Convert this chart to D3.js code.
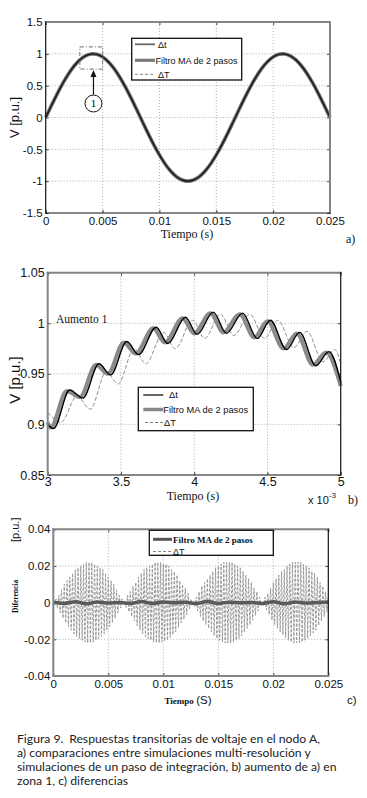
<!DOCTYPE html>
<html lang="es">
<head>
  <meta charset="UTF-8">
  <title>Figura 9</title>
  <script src="https://d3js.org/d3.v7.min.js"></script>
  <style>
    body { margin: 0; background: #fff; }
    svg { display: block; }
  </style>
</head>
<body>
<script>
  // ---- a) full waveform, one sample every 0.5 ms
  const aStep = 0.0005;
  const aV = [0, 0.187, 0.368, 0.536, 0.685, 0.809, 0.905, 0.969, 0.998, 0.992,
    0.951, 0.876, 0.771, 0.637, 0.482, 0.309, 0.125, -0.063, -0.249, -0.426,
    -0.588, -0.729, -0.844, -0.930, -0.982, -1.000, -0.982, -0.930, -0.844, -0.729,
    -0.588, -0.426, -0.249, -0.063, 0.125, 0.309, 0.482, 0.637, 0.771, 0.876,
    0.951, 0.992, 0.998, 0.969, 0.905, 0.809, 0.685, 0.536, 0.368, 0.187, 0.000];
  const aXTicks = [0, 0.005, 0.01, 0.015, 0.02, 0.025];
  const aYTicks = [-1.5, -1, -0.5, 0, 0.5, 1, 1.5];
  const zoomBox = {t: [0.003, 0.005], v: [0.76, 1.11]};   // zona 1
  const zoomMark = {t: 0.0042, v: 0.22};

  // ---- b) zoom of zone 1 (time in ms)
  const bDtT = [3.00, 3.04, 3.15, 3.24, 3.35, 3.43, 3.54, 3.62, 3.74, 3.82, 3.94,
    4.02, 4.13, 4.22, 4.33, 4.43, 4.52, 4.63, 4.72, 4.83, 4.92, 5.00];
  const bDtV = [0.900, 0.896, 0.934, 0.926, 0.960, 0.949, 0.982, 0.969, 0.996, 0.980, 1.006,
    0.989, 1.011, 0.990, 1.010, 0.985, 1.003, 0.974, 0.991, 0.958, 0.972, 0.942];
  const bMaT = [3.00, 3.02, 3.13, 3.22, 3.33, 3.41, 3.52, 3.60, 3.72, 3.80, 3.92,
    4.00, 4.11, 4.20, 4.31, 4.41, 4.50, 4.61, 4.70, 4.81, 4.90, 5.00];
  const bMaV = [0.902, 0.897, 0.933, 0.927, 0.959, 0.950, 0.981, 0.970, 0.995, 0.981, 1.005,
    0.990, 1.010, 0.991, 1.009, 0.986, 1.002, 0.975, 0.990, 0.959, 0.971, 0.938];
  const bBigT = [3.00, 3.09, 3.20, 3.29, 3.40, 3.48, 3.59, 3.67, 3.79, 3.87, 3.99,
    4.07, 4.18, 4.27, 4.38, 4.48, 4.57, 4.68, 4.77, 4.88, 4.96, 5.00];
  const bBigV = [0.912, 0.902, 0.928, 0.915, 0.952, 0.940, 0.975, 0.960, 0.991, 0.975, 1.003,
    0.985, 1.009, 0.988, 1.009, 0.985, 1.003, 0.976, 0.992, 0.962, 0.974, 0.960];
  const bXTicks = [3, 3.5, 4, 4.5, 5];
  const bYTicks = [0.85, 0.9, 0.95, 1, 1.05];

  // ---- c) differences (dashed ΔT trace in thousandths of p.u.)
  const cStep = 0.000125;
  const cBigMilli = [
    1, -1.5, 2, -3, 4, -5.5, 7, -8.5, 10, -11, 12, -13, 14, -15, 16, -17, 18, -18.5, 19, -19.5,
    20, -20.5, 21, -21.5, 22, -22, 22, -22, 22, -21.5, 21, -20.5, 20, -19.5, 19, -18.5, 18, -17,
    16, -15, 14, -13, 12, -11, 10, -8.5, 7, -5.5, 4, -3, 2, -0.5, 1, -2.5, 4, -5, 6, -7.5,
    9, -10, 11, -12.5, 14, -15, 16, -17, 18, -18.5, 19, -19.5, 20, -20.5, 21, -21.5, 22, -22,
    22, -22, 22, -21.5, 21, -21, 21, -20.5, 20, -19, 18, -17.5, 17, -16, 15, -13.5, 12, -11,
    10, -9, 8, -6.5, 5, -3.5, 2, -1, 1, -2, 3, -4.5, 6, -7.5, 9, -10, 11, -12, 13, -14,
    15, -16, 17, -18, 19, -19.5, 20, -20.5, 21, -21.5, 22, -22, 22, -22, 22, -22, 22, -21.5,
    21, -20.5, 20, -19.5, 19, -18, 17, -16, 15, -14, 13, -12, 11, -9.5, 8, -7, 6, -4.5,
    3, -1.5, 0, -1.5, 3, -4, 5, -6.5, 8, -9.5, 11, -12, 13, -14, 15, -16, 17, -17.5,
    18, -19, 20, -20.5, 21, -21.5, 22, -22, 22, -22, 22, -22, 22, -21.5, 21, -20.5,
    20, -19.5, 19, -18, 17, -16.5, 16, -15, 14, -12.5, 11, -10, 9, -7.5, 6, -5, 4];
  const cMaStep = 0.001;
  const cMaV = [0.0002, -0.0004, 0.0005, -0.0006, 0.0004, -0.0002, 0.0001, -0.0004, 0.0006,
    -0.0005, 0.0003, -0.0001, 0.0002, -0.0005, 0.0006, -0.0004, 0.0002, -0.0001, 0.0001,
    -0.0004, 0.0005, -0.0006, 0.0004, -0.0002, 0.0001, 0.0003];
  const cXTicks = [0, 0.005, 0.01, 0.015, 0.02, 0.025];
  const cYTicks = [-0.04, -0.02, 0, 0.02, 0.04];

  const SANS = '"Liberation Sans", Arial, sans-serif';
  const SERIF = '"Liberation Serif", "Times New Roman", serif';
  const GRAY = "#858585";

  const svg = d3.select("body").append("svg")
    .attr("width", 367).attr("height", 798);

  function drawPanel(p) {
    const x = d3.scaleLinear().domain(p.xDomain).range([p.left, p.right]);
    const y = d3.scaleLinear().domain(p.yDomain).range([p.bottom, p.top]);
    const g = svg.append("g");

    // dotted grid
    g.selectAll(".vg").data(p.xTicks.slice(1, -1)).join("line")
      .attr("x1", d => x(d)).attr("x2", d => x(d))
      .attr("y1", p.top).attr("y2", p.bottom)
      .attr("stroke", "#9a9a9a").attr("stroke-width", 0.8).attr("stroke-dasharray", "1,2");
    g.selectAll(".hg").data(p.yTicks.slice(1, -1)).join("line")
      .attr("y1", d => y(d)).attr("y2", d => y(d))
      .attr("x1", p.left).attr("x2", p.right)
      .attr("stroke", "#9a9a9a").attr("stroke-width", 0.8).attr("stroke-dasharray", "1,2");

    const style = s => {
      s.select(".domain").remove();
      s.attr("font-family", SANS).attr("font-size", p.fontSize);
      s.selectAll(".tick line").attr("stroke", "#444");
      s.selectAll(".tick text").attr("fill", "#111");
    };
    g.append("g").attr("transform", `translate(0,${p.bottom})`)
      .call(d3.axisBottom(x).tickValues(p.xTicks).tickSize(-3).tickPadding(p.pad)
        .tickFormat(d => String(d)))
      .call(style);
    g.append("g").attr("transform", `translate(${p.left},0)`)
      .call(d3.axisLeft(y).tickValues(p.yTicks).tickSize(-3).tickPadding(3)
        .tickFormat(d => String(d)))
      .call(style);
    g.append("g").attr("transform", `translate(0,${p.top})`)
      .call(d3.axisTop(x).tickValues(p.xTicks).tickSize(-3).tickFormat(""))
      .call(style);
    g.append("g").attr("transform", `translate(${p.right},0)`)
      .call(d3.axisRight(y).tickValues(p.yTicks).tickSize(-3).tickFormat(""))
      .call(style);

    const plot = g.append("g");

    // frame, each side its own colour like the original scan
    const f = p.frame;
    const side = (x1, y1, x2, y2, c) => g.append("line")
      .attr("x1", x1).attr("y1", y1).attr("x2", x2).attr("y2", y2)
      .attr("stroke", c[0]).attr("stroke-width", c[1]).attr("stroke-linecap", "square");
    side(p.left, p.top, p.right, p.top, f.top);
    side(p.right, p.top, p.right, p.bottom, f.right);
    side(p.left, p.bottom, p.right, p.bottom, f.bottom);
    side(p.left, p.top, p.left, p.bottom, f.left);

    return {g, plot, x, y};
  }

  function legend(g, box, rows, fontSize, fontFamily, weight) {
    g.append("rect").attr("x", box[0]).attr("y", box[1])
      .attr("width", box[2]).attr("height", box[3])
      .attr("fill", "#fff").attr("stroke", "#111").attr("stroke-width", 1.3);
    rows.forEach(r => {
      g.append("line").attr("x1", r.x1).attr("x2", r.x2).attr("y1", r.y).attr("y2", r.y)
        .attr("stroke", r.color).attr("stroke-width", r.width)
        .attr("stroke-dasharray", r.dash || null);
      g.append("text").attr("x", r.tx).attr("y", r.y + fontSize * 0.36)
        .attr("font-family", r.font || fontFamily).attr("font-size", fontSize)
        .attr("font-weight", r.font ? "normal" : (weight || "normal"))
        .attr("fill", "#111").text(r.label);
    });
  }

  // ================= a)
  const A = drawPanel({
    left: 45.7, right: 330, top: 22, bottom: 213,
    xDomain: [0, 0.025], yDomain: [-1.5, 1.5], xTicks: aXTicks, yTicks: aYTicks,
    fontSize: 11.5, pad: 3.5,
    frame: {top: [GRAY, 2], right: [GRAY, 2], bottom: ["#111", 1.2], left: ["#111", 1.2]}
  });
  const aLine = d3.line().x((d, i) => A.x(i * aStep)).y(d => A.y(d)).curve(d3.curveCatmullRom);
  A.plot.append("path").datum(aV).attr("d", aLine).attr("fill", "none")
    .attr("stroke", "#999").attr("stroke-width", 1).attr("stroke-dasharray", "4,2");
  A.plot.append("path").datum(aV).attr("d", aLine).attr("fill", "none")
    .attr("stroke", "#6e6e6e").attr("stroke-width", 3.6);
  A.plot.append("path").datum(aV).attr("d", aLine).attr("fill", "none")
    .attr("stroke", "#1a1a1a").attr("stroke-width", 1.4);

  // zone 1 marker
  A.g.append("rect")
    .attr("x", A.x(zoomBox.t[0])).attr("y", A.y(zoomBox.v[1]))
    .attr("width", A.x(zoomBox.t[1]) - A.x(zoomBox.t[0]))
    .attr("height", A.y(zoomBox.v[0]) - A.y(zoomBox.v[1]))
    .attr("fill", "none").attr("stroke", "#888").attr("stroke-width", 1.2)
    .attr("stroke-dasharray", "4,2,1,2");
  const mx = A.x(zoomMark.t), my = A.y(zoomMark.v);
  A.g.append("line").attr("x1", mx).attr("x2", mx)
    .attr("y1", my - 9).attr("y2", A.y(zoomBox.v[0]) + 6)
    .attr("stroke", "#111").attr("stroke-width", 1.2);
  A.g.append("path")
    .attr("d", `M${mx},${A.y(zoomBox.v[0]) + 1} l-3,7 l6,0 z`).attr("fill", "#111");
  A.g.append("circle").attr("cx", mx).attr("cy", my).attr("r", 8.5)
    .attr("fill", "#fff").attr("stroke", "#111").attr("stroke-width", 1);
  A.g.append("text").attr("x", mx).attr("y", my + 4).attr("text-anchor", "middle")
    .attr("font-family", SERIF).attr("font-size", 11).text("1");

  legend(A.g, [131.7, 38.3, 110, 41.7], [
    {x1: 135, x2: 155, y: 44.3, tx: 158, color: "#666", width: 1.8, label: "\u0394t"},
    {x1: 135, x2: 155, y: 60.3, tx: 155.5, color: "#7a7a7a", width: 3.2, label: "Filtro MA de 2 pasos"},
    {x1: 135, x2: 155, y: 74.3, tx: 158, color: "#888", width: 1, dash: "3,2", label: "\u0394T"}
  ], 9, SANS);

  svg.append("text").attr("x", 14).attr("y", 117.5).attr("text-anchor", "middle")
    .attr("transform", "rotate(-90,14,117.5)").attr("dy", "0.35em")
    .attr("font-family", SANS).attr("font-size", 13).attr("fill", "#111").text("V [p.u.]");
  svg.append("text").attr("x", 187).attr("y", 237.5).attr("text-anchor", "middle")
    .attr("font-family", SERIF).attr("font-size", 12).attr("fill", "#111").text("Tiempo  (s)");
  svg.append("text").attr("x", 346).attr("y", 243)
    .attr("font-family", SERIF).attr("font-size", 12).attr("fill", "#111").text("a)");

  // ================= b)
  const B = drawPanel({
    left: 47.7, right: 340.7, top: 272.7, bottom: 475,
    xDomain: [3, 5], yDomain: [0.85, 1.05], xTicks: bXTicks, yTicks: bYTicks,
    fontSize: 12.5, pad: 2.5,
    frame: {top: [GRAY, 2], right: ["#111", 1.2], bottom: ["#111", 1.2], left: [GRAY, 2]}
  });
  const bLine = (ts) => d3.line().x((d, i) => B.x(ts[i])).y(d => B.y(d)).curve(d3.curveMonotoneX);
  B.plot.append("path").datum(bMaV).attr("d", bLine(bMaT)).attr("fill", "none")
    .attr("stroke", "#8a8a8a").attr("stroke-width", 4);
  B.plot.append("path").datum(bBigV).attr("d", bLine(bBigT)).attr("fill", "none")
    .attr("stroke", "#8f8f8f").attr("stroke-width", 1).attr("stroke-dasharray", "4,2");
  B.plot.append("path").datum(bDtV).attr("d", bLine(bDtT)).attr("fill", "none")
    .attr("stroke", "#000").attr("stroke-width", 1.4);

  B.g.append("text").attr("x", 56).attr("y", 323)
    .attr("font-family", SERIF).attr("font-size", 11.5).attr("fill", "#111").text("Aumento 1");

  legend(B.g, [138.3, 387.3, 115, 43.4], [
    {x1: 143.3, x2: 163.3, y: 395, tx: 169, color: "#000", width: 1.2, label: "\u0394t"},
    {x1: 143.3, x2: 163.3, y: 409.5, tx: 163.3, color: "#888", width: 3.5, label: "Filtro MA de 2 pasos"},
    {x1: 145, x2: 163.3, y: 422.5, tx: 164, color: "#777", width: 1, dash: "3,2", label: "\u0394T"}
  ], 9.3, SANS);

  svg.append("text").attr("x", 15).attr("y", 380).attr("text-anchor", "middle")
    .attr("transform", "rotate(-90,15,380)").attr("dy", "0.35em")
    .attr("font-family", SANS).attr("font-size", 15).attr("fill", "#111").text("V [p.u.]");
  svg.append("text").attr("x", 193).attr("y", 500).attr("text-anchor", "middle")
    .attr("font-family", SERIF).attr("font-size", 12).attr("fill", "#111").text("Tiempo  (s)");
  const e3 = svg.append("text").attr("x", 308).attr("y", 504)
    .attr("font-family", SANS).attr("font-size", 11).attr("fill", "#111");
  e3.append("tspan").text("x 10");
  e3.append("tspan").attr("dy", -6).attr("font-size", 8).text("-3");
  svg.append("text").attr("x", 348).attr("y", 504)
    .attr("font-family", SERIF).attr("font-size", 12).attr("fill", "#111").text("b)");

  // ================= c)
  const C = drawPanel({
    left: 53.3, right: 328.3, top: 529.3, bottom: 676,
    xDomain: [0, 0.025], yDomain: [-0.04, 0.04], xTicks: cXTicks, yTicks: cYTicks,
    fontSize: 11.5, pad: 4,
    frame: {top: [GRAY, 2], right: ["#111", 1.2], bottom: [GRAY, 2], left: [GRAY, 2]}
  });
  C.plot.append("path").datum(cBigMilli)
    .attr("d", d3.line().x((d, i) => C.x(i * cStep)).y(d => C.y(d / 1000)))
    .attr("fill", "none").attr("stroke", "#9a9a9a").attr("stroke-width", 1)
    .attr("stroke-dasharray", "3,1.5");
  C.plot.append("path").datum(cMaV)
    .attr("d", d3.line().x((d, i) => C.x(i * cMaStep)).y(d => C.y(d)).curve(d3.curveMonotoneX))
    .attr("fill", "none").attr("stroke", "#5a5a5a").attr("stroke-width", 3.5);

  legend(C.g, [149.3, 530.3, 124, 25], [
    {x1: 153, x2: 172, y: 539.3, tx: 173, color: "#555", width: 3, label: "Filtro MA de 2 pasos"},
    {x1: 153, x2: 172, y: 551.5, tx: 173, color: "#888", width: 1, dash: "3,2", label: "\u0394T", font: SANS}
  ], 9, SERIF, "bold");

  svg.append("text").attr("x", 15).attr("y", 613).attr("text-anchor", "start")
    .attr("transform", "rotate(-90,15,613)").attr("dy", "0.35em")
    .attr("font-family", SERIF).attr("font-weight", "bold").attr("font-size", 7.5)
    .attr("fill", "#111").text("Diferencia");
  svg.append("text").attr("x", 15).attr("y", 542).attr("text-anchor", "start")
    .attr("transform", "rotate(-90,15,542)").attr("dy", "0.35em")
    .attr("font-family", SANS).attr("font-size", 11)
    .attr("fill", "#111").text("[p.u.]");
  const tc = svg.append("text").attr("x", 188).attr("y", 704).attr("text-anchor", "middle")
    .attr("fill", "#111");
  tc.append("tspan").attr("font-family", SERIF).attr("font-weight", "bold")
    .attr("font-size", 9).text("Tiempo ");
  tc.append("tspan").attr("font-family", SANS).attr("font-size", 11.5).text("(S)");
  svg.append("text").attr("x", 347).attr("y", 704)
    .attr("font-family", SANS).attr("font-size", 11.5).attr("fill", "#111").text("c)");

  // ================= caption
  const cap = svg.append("g").attr("font-family", "Lato, 'Open Sans', sans-serif")
    .attr("font-size", 12.2).attr("fill", "#222");
  cap.append("text").attr("x", 17).attr("y", 743).text("Figura 9.");
  cap.append("text").attr("x", 320).attr("y", 743).attr("text-anchor", "end")
    .text("Respuestas transitorias de voltaje en el nodo A,");
  cap.append("text").attr("x", 17).attr("y", 757)
    .text("a) comparaciones entre simulaciones multi-resolución y");
  cap.append("text").attr("x", 17).attr("y", 771)
    .text("simulaciones de un paso de integración, b) aumento de a) en");
  cap.append("text").attr("x", 17).attr("y", 785).text("zona 1, c) diferencias");
</script>
</body>
</html>
